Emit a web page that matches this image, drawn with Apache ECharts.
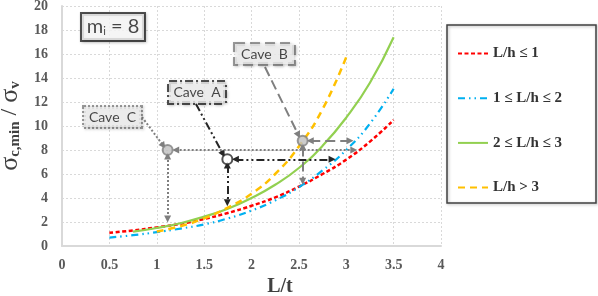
<!DOCTYPE html>
<html><head><meta charset="utf-8">
<script src="https://cdn.jsdelivr.net/npm/echarts@6/dist/echarts.min.js"></script>
<style>html,body{margin:0;padding:0;background:#fff}#c{width:598px;height:296px}</style>
</head><body><div id="c"></div>
<script>
// ---- data ----
const seriesNames = ['L/h \u2264 1', '1 \u2264 L/h \u2264 2', '2 \u2264 L/h \u2264 3', 'L/h > 3'];
const redData = [[0.5,1.1],[0.75,1.3],[1.0,1.55],[1.25,1.85],[1.5,2.25],[1.75,2.75],[2.0,3.35],[2.25,4.05],[2.5,4.95],[2.75,6.0],[3.0,7.2],[3.25,8.7],[3.5,10.5]];
const blueData = [[0.5,0.7],[0.75,0.9],[1.0,1.15],[1.25,1.45],[1.5,1.8],[1.75,2.3],[2.0,2.95],[2.25,3.8],[2.5,4.9],[2.75,6.3],[3.0,8.0],[3.25,10.2],[3.5,13.1]];
const greenData = [[0.75,1.2],[1.0,1.5],[1.25,1.9],[1.5,2.45],[1.75,3.1],[2.0,4.0],[2.25,5.1],[2.5,6.5],[2.75,8.35],[3.0,10.7],[3.25,13.6],[3.5,17.4]];
const yellowData = [[1.0,1.2],[1.25,1.65],[1.5,2.3],[1.75,3.2],[2.0,4.35],[2.25,6.0],[2.5,8.3],[2.75,11.4],[3.0,15.75]];

// cave points (data space)
const cavePoints = { A: [1.745, 7.22], B: [2.54, 8.78], C: [1.115, 8.0] };
// double-headed arrows: [from, to]
const caveAArrows = [[[1.745, 6.75], [1.745, 3.6]], [[1.83, 7.22], [2.85, 7.22]]];
const caveBArrows = [[[2.54, 8.3], [2.54, 5.4]], [[2.62, 8.78], [3.04, 8.78]]];
const caveCArrows = [[[1.115, 7.5], [1.115, 2.25]], [[1.2, 8.0], [3.08, 8.0]]];
// leader lines from label boxes to points
const caveALeader = [[1.414, 11.83], [1.70, 7.65]];
const caveBLeader = [[2.142, 14.92], [2.495, 9.25]];
const caveCLeader = [[0.844, 10.75], [1.07, 8.35]];
// label box centres (data space)
const boxA = [1.425, 12.79];
const boxB = [2.137, 16.0];
const boxC = [0.533, 10.75];
const boxM = [0.538, 18.25];

const xTicks = { min: 0, max: 4, interval: 0.5 };
const yTicks = { min: 0, max: 20, interval: 2 };

const serif = "'Liberation Serif', 'DejaVu Serif', serif";
const sans = "Lato, 'Open Sans', sans-serif";

function arrowLines(list, startSym) {
  return list.map(([a, b]) => [
    { coord: a, symbol: startSym },
    { coord: b, symbol: 'triangle' }
  ]);
}

function boxSeries(pos, text, border, borderType, bg, fontSize, w, h, rich) {
  return {
    type: 'scatter', data: [pos], symbolSize: 1, itemStyle: { color: 'rgba(0,0,0,0)' }, silent: true, z: 10,
    label: {
      show: true, position: 'inside', formatter: text,
      fontFamily: sans, fontSize: fontSize, color: '#1a1a1a',
      backgroundColor: bg, borderColor: border, borderWidth: 2, borderType: borderType,
      width: w, height: h, align: 'center', verticalAlign: 'middle', lineHeight: h,
      shadowColor: 'rgba(0,0,0,0.25)', shadowBlur: 3, shadowOffsetX: 1, shadowOffsetY: 1,
      rich: rich
    }
  };
}

const chart = echarts.init(document.getElementById('c'), null, { renderer: 'canvas' });
chart.setOption({
  animation: false,
  backgroundColor: '#fff',
  grid: { left: 62, right: 157, top: 6, bottom: 50, containLabel: false, outerBoundsMode: 'none' },
  xAxis: {
    type: 'value', min: xTicks.min, max: xTicks.max, interval: xTicks.interval,
    name: 'L/t', nameLocation: 'middle', nameGap: 30,
    nameTextStyle: { fontFamily: serif, fontWeight: 'bold', fontSize: 20, color: '#404040', padding: [0, 0, 0, 57] },
    axisLine: { show: true, lineStyle: { color: '#d9d9d9', width: 2 } },
    axisTick: { show: false },
    axisLabel: { fontFamily: serif, fontWeight: 'bold', fontSize: 14, color: '#595959', margin: 12 },
    splitLine: { show: true, lineStyle: { color: '#d9d9d9', type: [2, 2], width: 1 } }
  },
  yAxis: {
    type: 'value', min: yTicks.min, max: yTicks.max, interval: yTicks.interval,
    name: '{s|\u03c3}{sub|c,min}{sl| / }{s|\u03c3}{sub|v}', nameLocation: 'middle', nameGap: 36,
    nameTextStyle: {
      color: '#404040',
      rich: {
        s: { fontFamily: serif, fontSize: 26, color: '#404040' },
        sub: { fontFamily: serif, fontSize: 15, color: '#404040', fontWeight: 'bold', padding: [10, 0, 0, 0] },
        sl: { fontFamily: serif, fontSize: 24, color: '#404040' }
      }
    },
    axisLine: { show: true, lineStyle: { color: '#d9d9d9', width: 2 } },
    axisTick: { show: false },
    axisLabel: { fontFamily: serif, fontWeight: 'bold', fontSize: 14, color: '#595959', margin: 14 },
    splitLine: { show: true, lineStyle: { color: '#d9d9d9', type: [2, 2], width: 1 } }
  },
  legend: {
    orient: 'vertical', left: 452, top: 41, itemGap: 29.7, itemWidth: 30, itemHeight: 14,
    data: seriesNames,
    itemStyle: { opacity: 0 },
    textStyle: { fontFamily: serif, fontWeight: 'bold', fontSize: 15, color: '#333' }
  },
  graphic: [{
    type: 'rect', shape: { x: 447, y: 25, width: 149, height: 178 },
    style: { fill: 'rgba(0,0,0,0)', stroke: '#404040', lineWidth: 1.5, shadowColor: 'rgba(0,0,0,0.3)', shadowBlur: 3, shadowOffsetX: 1, shadowOffsetY: 1 },
    z: -1, silent: true
  }],
  series: [
    { name: seriesNames[0], type: 'line', data: redData, smooth: true, showSymbol: false, symbol: 'none',
      lineStyle: { color: '#ff0000', width: 2.5, type: [4, 2.5] }, itemStyle: { color: '#ff0000' }, z: 3 },
    { name: seriesNames[1], type: 'line', data: blueData, smooth: true, showSymbol: false, symbol: 'none',
      lineStyle: { color: '#00b0f0', width: 2.2, type: [7, 4, 1.5, 4, 1.5, 4] }, itemStyle: { color: '#00b0f0' }, z: 3 },
    { name: seriesNames[2], type: 'line', data: greenData, smooth: true, showSymbol: false, symbol: 'none',
      lineStyle: { color: '#92d050', width: 2.2, type: 'solid' }, itemStyle: { color: '#92d050' }, z: 3 },
    { name: seriesNames[3], type: 'line', data: yellowData, smooth: true, showSymbol: false, symbol: 'none',
      lineStyle: { color: '#ffc000', width: 2.5, type: [7, 5] }, itemStyle: { color: '#ffc000' }, z: 3 },

    // Cave A arrows
    { type: 'line', data: [], silent: true, z: 5,
      markLine: { silent: true, animation: false, symbolSize: 7, label: { show: false },
        lineStyle: { color: '#262626', width: 2, type: [8, 3, 2, 3, 2, 3] },
        data: arrowLines(caveAArrows, 'triangle').concat(arrowLines([caveALeader], 'none')) } },
    // Cave B arrows
    { type: 'line', data: [], silent: true, z: 5,
      markLine: { silent: true, animation: false, symbolSize: 7, label: { show: false },
        lineStyle: { color: '#7f7f7f', width: 2, type: [10, 5] },
        data: arrowLines(caveBArrows, 'triangle').concat(arrowLines([caveBLeader], 'none')) } },
    // Cave C arrows
    { type: 'line', data: [], silent: true, z: 5,
      markLine: { silent: true, animation: false, symbolSize: 7, label: { show: false },
        lineStyle: { color: '#7f7f7f', width: 2, type: [2, 2] },
        data: arrowLines(caveCArrows, 'triangle').concat(arrowLines([caveCLeader], 'none')) } },

    // Cave points
    { type: 'scatter', data: [cavePoints.A], symbol: 'circle', symbolSize: 10, silent: true, z: 8,
      itemStyle: { color: '#ffffff', borderColor: '#262626', borderWidth: 2 } },
    { type: 'scatter', data: [cavePoints.B, cavePoints.C], symbol: 'circle', symbolSize: 10, silent: true, z: 8,
      itemStyle: { color: '#bfbfbf', borderColor: '#7f7f7f', borderWidth: 2 } },

    // label boxes
    boxSeries(boxA, 'Cave  A', '#262626', [8, 3, 2, 3], '#f2f2f2', 14, 56, 21),
    boxSeries(boxB, 'Cave  B', '#7f7f7f', [10, 5], '#f2f2f2', 14, 59, 20),
    boxSeries(boxC, 'Cave  C', '#7f7f7f', [2, 2], '#f2f2f2', 14, 57, 20),
    boxSeries(boxM, '{a|m}{b|i}{a| = 8}', '#262626', 'solid', '#ffffff', 19, 62, 26,
      { a: { fontFamily: sans, fontSize: 20, color: '#1a1a1a' }, b: { fontFamily: sans, fontSize: 11, color: '#1a1a1a', padding: [8, 0, 0, 0] } })
  ]
});
</script></body></html>
